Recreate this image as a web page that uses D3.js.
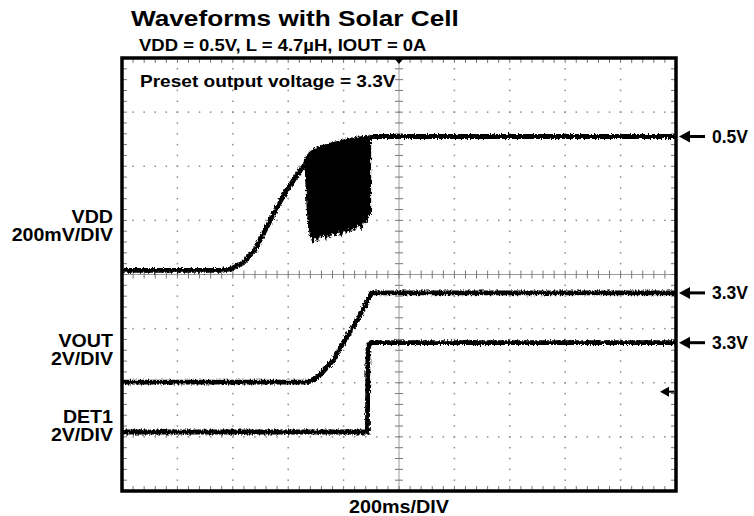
<!DOCTYPE html>
<html><head><meta charset="utf-8">
<script src="https://cdn.jsdelivr.net/npm/d3@7"></script>
<style>
body{margin:0;background:#fff}
svg{display:block}
text{font-family:"Liberation Sans",Arial,Helvetica,sans-serif;font-weight:bold;fill:#000}
</style>
</head><body>
<svg id="c" width="754" height="516"></svg>
<script>
// ---------- data ----------
const titleText = "Waveforms with Solar Cell";
const subtitleText = "VDD = 0.5V, L = 4.7µH, IOUT = 0A";
const noteText = "Preset output voltage = 3.3V";
const timebaseText = "200ms/DIV";
const channelNames = ["VDD", "VOUT", "DET1"];
const channelScales = ["200mV/DIV", "2V/DIV", "2V/DIV"];
const channelVoltsPerDiv = [0.2, 2, 2];
const channelZeroDiv = [4.05, 2.01, 1.09];      // ground level of each channel, in divisions from bottom
const markerLabels = ["0.5V", "3.3V", "3.3V"];
const markerValues = [0.5, 3.3, 3.3];

const msPerDiv = 200;
const hDivs = 10, vDivs = 8;
const triggerTimeMs = 1000;
const triggerLevelDiv = 1.835;

// VDD (V) vs time (ms)
const vddTime = [0, 360, 395, 437, 480, 523, 560, 596, 630, 653, 662];
const vddVolt = [0.005, 0.005, 0.012, 0.033, 0.081, 0.166, 0.24, 0.303, 0.355, 0.388, 0.395];
// VDD switching burst envelope
const burstTime  = [662, 666, 670, 675, 680, 686, 690, 694, 700, 706, 712, 720, 728, 736, 744, 752, 760, 768, 776, 784, 792, 800, 808, 816, 824, 832, 840, 848, 856, 864, 872, 880, 886, 890, 894];
const burstUpper = [0.395, 0.41, 0.42, 0.428, 0.434, 0.44, 0.443, 0.446, 0.45, 0.452, 0.455, 0.458, 0.461, 0.463, 0.466, 0.468, 0.47, 0.472, 0.474, 0.476, 0.478, 0.48, 0.482, 0.484, 0.485, 0.487, 0.488, 0.49, 0.491, 0.492, 0.493, 0.494, 0.495, 0.496, 0.497];
const burstLower = [0.395, 0.30, 0.22, 0.17, 0.14, 0.12, 0.105, 0.125, 0.13, 0.115, 0.135, 0.13, 0.14, 0.122, 0.142, 0.13, 0.15, 0.135, 0.145, 0.155, 0.135, 0.16, 0.145, 0.165, 0.15, 0.17, 0.155, 0.17, 0.175, 0.16, 0.19, 0.18, 0.2, 0.21, 0.30];
const vddSettledTime = [894, 2000];
const vddSettledVolt = [0.5, 0.5];

// VOUT (V) vs time (ms)
const voutTime = [0, 667, 690, 715, 740, 763, 800, 835, 860, 883, 901, 2000];
const voutVolt = [0, 0, 0.08, 0.27, 0.55, 0.82, 1.48, 2.05, 2.5, 2.92, 3.3, 3.3];

// DET1 (V) vs time (ms)
const det1Time = [0, 886, 888, 892, 899, 2000];
const det1Volt = [0, 0, 3.05, 3.2, 3.3, 3.3];

// ---------- layout ----------
const L = 122, R = 676, T = 58, B = 491;
const svg = d3.select("#c");
const x = d3.scaleLinear().domain([0, hDivs * msPerDiv]).range([L, R]);
const y = d3.scaleLinear().domain([0, vDivs]).range([B, T]);
const chY = (ch, v) => y(channelZeroDiv[ch] + v / channelVoltsPerDiv[ch]);

// scope-trace fuzz (visual style only)
const defs = svg.append("defs");
const f = defs.append("filter").attr("id", "fuzz").attr("x", "-2%").attr("y", "-20%").attr("width", "104%").attr("height", "140%");
f.append("feTurbulence").attr("type", "fractalNoise").attr("baseFrequency", "0.7 0.35").attr("numOctaves", 2).attr("seed", 3).attr("result", "n");
f.append("feDisplacementMap").attr("in", "SourceGraphic").attr("in2", "n").attr("scale", 4.5)
  .attr("xChannelSelector", "R").attr("yChannelSelector", "G");

function txt(px, py, str, size, anchor, sx) {
  const t = svg.append("text").attr("x", px).attr("y", py)
    .attr("font-size", size).attr("text-anchor", anchor || "start").text(str);
  if (sx && sx !== 1) {
    const w = t.node().getComputedTextLength();
    t.attr("textLength", w * sx).attr("lengthAdjust", "spacingAndGlyphs");
  }
  return t;
}

// grid dots
const minor = 5;
const gridG = svg.append("g");
const dotsX = d3.range(0, hDivs * minor + 1).map(i => i * msPerDiv / minor);
const dotsY = d3.range(0, vDivs * minor + 1).map(i => i / minor);
for (let d = 1; d < vDivs; d++) {
  if (d === vDivs / 2) continue;
  dotsX.forEach(t => gridG.append("rect").attr("x", x(t) - 0.75).attr("y", y(d) - 0.75)
    .attr("width", 1.5).attr("height", 1.5).attr("fill", "#8a8a8a"));
}
for (let d = 1; d < hDivs; d++) {
  if (d === hDivs / 2) continue;
  dotsY.forEach(v => gridG.append("rect").attr("x", x(d * msPerDiv) - 0.75).attr("y", y(v) - 0.75)
    .attr("width", 1.5).attr("height", 1.5).attr("fill", "#8a8a8a"));
}
// center cross
const cx = x(hDivs * msPerDiv / 2), cy = y(vDivs / 2);
gridG.append("line").attr("x1", L).attr("x2", R).attr("y1", cy).attr("y2", cy).attr("stroke", "#9a9a9a").attr("stroke-width", 1);
gridG.append("line").attr("x1", cx).attr("x2", cx).attr("y1", T).attr("y2", B).attr("stroke", "#9a9a9a").attr("stroke-width", 1);
dotsX.forEach(t => gridG.append("line").attr("x1", x(t)).attr("x2", x(t)).attr("y1", cy - 4).attr("y2", cy + 4).attr("stroke", "#777").attr("stroke-width", 1));
dotsY.forEach(v => gridG.append("line").attr("x1", cx - 4).attr("x2", cx + 4).attr("y1", y(v)).attr("y2", y(v)).attr("stroke", "#777").attr("stroke-width", 1));
// frame edge ticks
dotsX.forEach(t => {
  gridG.append("line").attr("x1", x(t)).attr("x2", x(t)).attr("y1", T).attr("y2", T + 5).attr("stroke", "#777");
  gridG.append("line").attr("x1", x(t)).attr("x2", x(t)).attr("y1", B).attr("y2", B - 5).attr("stroke", "#777");
});
dotsY.forEach(v => {
  gridG.append("line").attr("x1", L).attr("x2", L + 5).attr("y1", y(v)).attr("y2", y(v)).attr("stroke", "#777");
  gridG.append("line").attr("x1", R).attr("x2", R - 5).attr("y1", y(v)).attr("y2", y(v)).attr("stroke", "#777");
});

// traces
const lineFn = d3.line().x(d => x(d[0])).y(d => d[1]);
const zip = (ts, vs, ch) => ts.map((t, i) => [t, chY(ch, vs[i])]);
const traceG = svg.append("g").attr("filter", "url(#fuzz)");
const strokeG = traceG.append("g").attr("fill", "none").attr("stroke", "#000").attr("stroke-width", 4.8).attr("stroke-linejoin", "round");

// VDD burst area
const burstPoly = zip(burstTime, burstUpper, 0).concat(zip(burstTime, burstLower, 0).reverse());
traceG.append("path").attr("d", lineFn(burstPoly) + "Z").attr("fill", "#000").attr("stroke", "#000").attr("stroke-width", 1.5);
strokeG.append("path").attr("d", lineFn(zip(vddTime, vddVolt, 0).concat(zip(burstTime, burstUpper, 0))));
strokeG.append("path").attr("d", lineFn(zip(vddSettledTime, vddSettledVolt, 0)));
traceG.append("line").attr("x1", x(burstTime[burstTime.length - 1])).attr("x2", x(burstTime[burstTime.length - 1]))
  .attr("y1", chY(0, burstLower[burstLower.length - 2])).attr("y2", chY(0, vddSettledVolt[0])).attr("stroke", "#000").attr("stroke-width", 3);
strokeG.append("path").attr("d", lineFn(zip(voutTime, voutVolt, 1)));
strokeG.append("path").attr("d", lineFn(zip(det1Time, det1Volt, 2))).attr("stroke-linejoin", "miter");

// frame
svg.append("rect").attr("x", L).attr("y", T).attr("width", R - L).attr("height", B - T)
  .attr("fill", "none").attr("stroke", "#000").attr("stroke-width", 3.5);

// trigger position marker
const tx = x(triggerTimeMs);
svg.append("path").attr("d", `M${tx - 5},${T}L${tx + 5},${T}L${tx},${T + 6}Z`).attr("fill", "#000");
// trigger level marker
const ty = y(triggerLevelDiv);
svg.append("path").attr("d", `M${R - 16},${ty}L${R - 7},${ty - 5}L${R - 7},${ty + 5}Z`).attr("fill", "#000");
svg.append("line").attr("x1", R - 8).attr("x2", R - 2).attr("y1", ty).attr("y2", ty).attr("stroke", "#000").attr("stroke-width", 2);

// right level markers
markerValues.forEach((v, ch) => {
  const my = chY(ch, v);
  svg.append("path").attr("d", `M${R + 3},${my}L${R + 14},${my - 6}L${R + 14},${my + 6}Z`).attr("fill", "#000");
  svg.append("line").attr("x1", R + 12).attr("x2", R + 29).attr("y1", my).attr("y2", my).attr("stroke", "#000").attr("stroke-width", 3);
  txt(R + 36, my + 6.3, markerLabels[ch], 17.5, "start");
});

// titles
txt(131, 26, titleText, 22, "start", 1.19);
txt(139, 51, subtitleText, 16.5, "start", 1.12);
txt(140, 87.3, noteText, 17, "start", 1.12);
txt(cx, 513.3, timebaseText, 17.5, "middle", 1.13);

// channel labels
const labelBase = [[223, 241.3], [346.7, 365], [422.7, 441]];
channelNames.forEach((n, i) => {
  txt(113, labelBase[i][0], n, 17.5, "end", 1.12);
  txt(113, labelBase[i][1], channelScales[i], 17.5, "end", 1.12);
});
</script>
</body></html>
